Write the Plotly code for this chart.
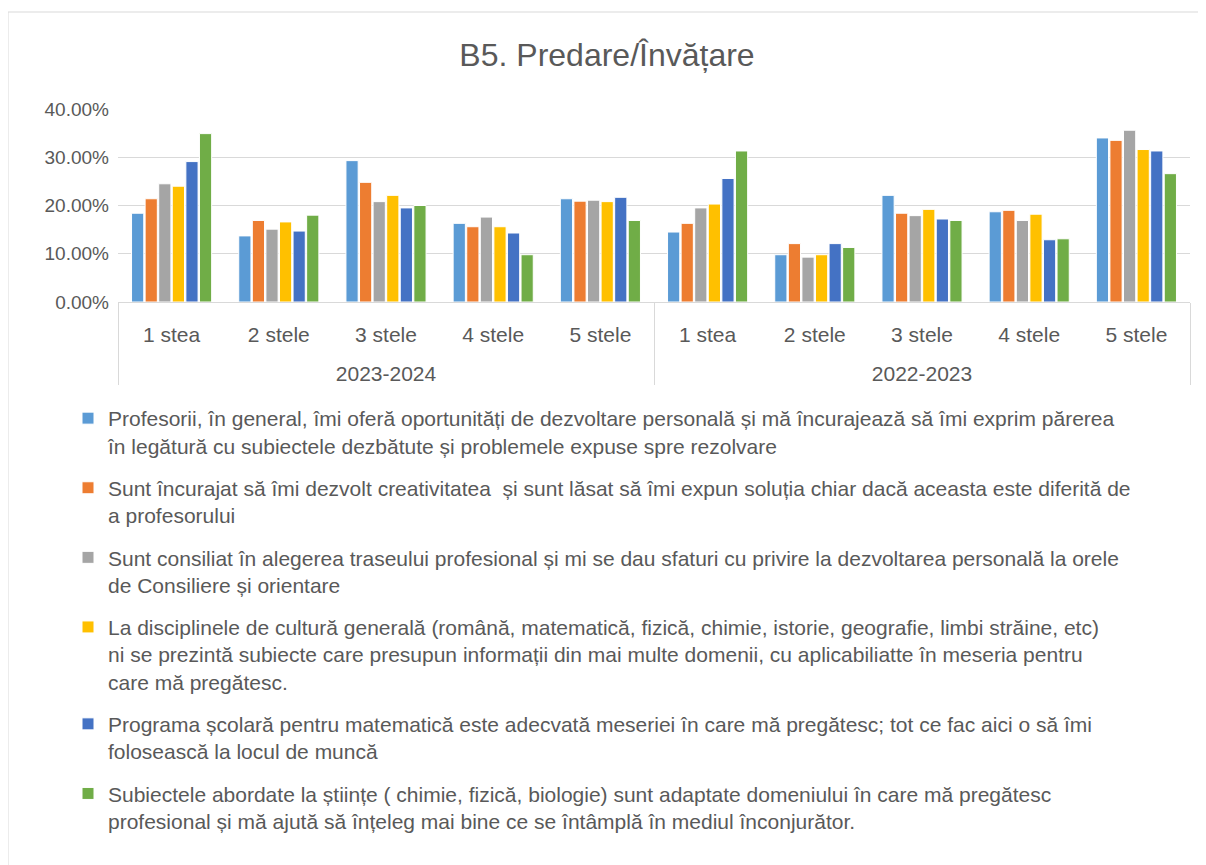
import plotly.graph_objects as go

years = ['2023-2024'] * 5 + ['2022-2023'] * 5
stars = ['1 stea', '2 stele', '3 stele', '4 stele', '5 stele'] * 2

series_names = [
    'Profesorii, în general, îmi oferă oportunități de dezvoltare personală și mă încurajează să îmi exprim părerea<br>'
    'în legătură cu subiectele dezbătute și problemele expuse spre rezolvare',
    'Sunt încurajat să îmi dezvolt creativitatea  și sunt lăsat să îmi expun soluția chiar dacă aceasta este diferită de<br>'
    'a profesorului',
    'Sunt consiliat în alegerea traseului profesional și mi se dau sfaturi cu privire la dezvoltarea personală la orele<br>'
    'de Consiliere și orientare',
    'La disciplinele de cultură generală (română, matematică, fizică, chimie, istorie, geografie, limbi străine, etc)<br>'
    'ni se prezintă subiecte care presupun informații din mai multe domenii, cu aplicabiliatte în meseria pentru<br>'
    'care mă pregătesc.',
    'Programa școlară pentru matematică este adecvată meseriei în care mă pregătesc; tot ce fac aici o să îmi<br>'
    'folosească la locul de muncă',
    'Subiectele abordate la științe ( chimie, fizică, biologie) sunt adaptate domeniului în care mă pregătesc<br>'
    'profesional și mă ajută să înțeleg mai bine ce se întâmplă în mediul înconjurător.',
]

profesori = [0.184, 0.137, 0.293, 0.163, 0.214, 0.145, 0.098, 0.221, 0.187, 0.340]
creativitate = [0.214, 0.169, 0.248, 0.156, 0.209, 0.163, 0.121, 0.184, 0.190, 0.335]
consiliere = [0.245, 0.151, 0.208, 0.176, 0.211, 0.195, 0.093, 0.179, 0.169, 0.356]
cultura_generala = [0.240, 0.166, 0.221, 0.156, 0.208, 0.203, 0.098, 0.192, 0.182, 0.316]
matematica = [0.291, 0.147, 0.195, 0.143, 0.217, 0.256, 0.121, 0.172, 0.129, 0.313]
stiinte = [0.349, 0.180, 0.200, 0.098, 0.169, 0.313, 0.113, 0.169, 0.131, 0.266]

colors = ['#5B9BD5', '#ED7D31', '#A5A5A5', '#FFC000', '#4472C4', '#70AD47']
all_values = [profesori, creativitate, consiliere, cultura_generala, matematica, stiinte]

FONT = 'Liberation Sans, Arial, sans-serif'
GREY = '#595959'

# page has an 8px body margin, so the figure is a bit smaller than the window
W, H = 1198, 857
L, R, T, B = 110, 16, 101, 563
PW, PH = W - L - R, H - T - B


def px_x(x):
    return (x - L) / PW


def px_y(y):
    return (H - B - y) / PH


fig = go.Figure()
for i, (name, vals) in enumerate(zip(series_names, all_values)):
    fig.add_trace(go.Bar(
        x=[['<br>' + y for y in years], stars],
        y=vals,
        name=name,
        legendgroup=f'g{i}',
        marker=dict(color=colors[i], line=dict(color='white', width=1)),
    ))

fig.update_layout(
    title=dict(text='B5. Predare/Învățare', x=0.5, xanchor='center',
               y=1 - 47 / H, yanchor='middle', yref='container',
               font=dict(size=32, color=GREY, family=FONT)),
    barmode='group',
    bargap=0.24,
    bargroupgap=0.1,
    width=W, height=H,
    margin=dict(l=L, r=R, t=T, b=B),
    plot_bgcolor='white',
    paper_bgcolor='white',
    font=dict(family=FONT, color=GREY, size=18),
    yaxis=dict(range=[0, 0.4], dtick=0.1, tickformat='.2%', gridcolor='#d9d9d9',
               gridwidth=1, zeroline=False, showline=False,
               tickfont=dict(size=19, color=GREY), ticks='', ticklabelstandoff=8),
    xaxis=dict(type='multicategory', showline=True, linecolor='#d9d9d9',
               showdividers=True, dividercolor='#d9d9d9', dividerwidth=1,
               tickfont=dict(size=21, color=GREY), ticks='', ticklabelstandoff=14),
    legend=dict(orientation='v', x=px_x(60), xanchor='left', y=px_y(390),
                yanchor='top', font=dict(size=21, color=GREY, family=FONT),
                tracegroupgap=12, traceorder='grouped', itemwidth=30, valign='top',
                maxheight=1),
    showlegend=True,
)

fig.add_shape(type='rect', xref='paper', yref='paper',
              x0=px_x(0), x1=px_x(1192), y0=px_y(H + 5), y1=px_y(4),
              line=dict(color='#d9d9d9', width=1), fillcolor='rgba(0,0,0,0)', layer='below')

fig.write_html('out.html')
